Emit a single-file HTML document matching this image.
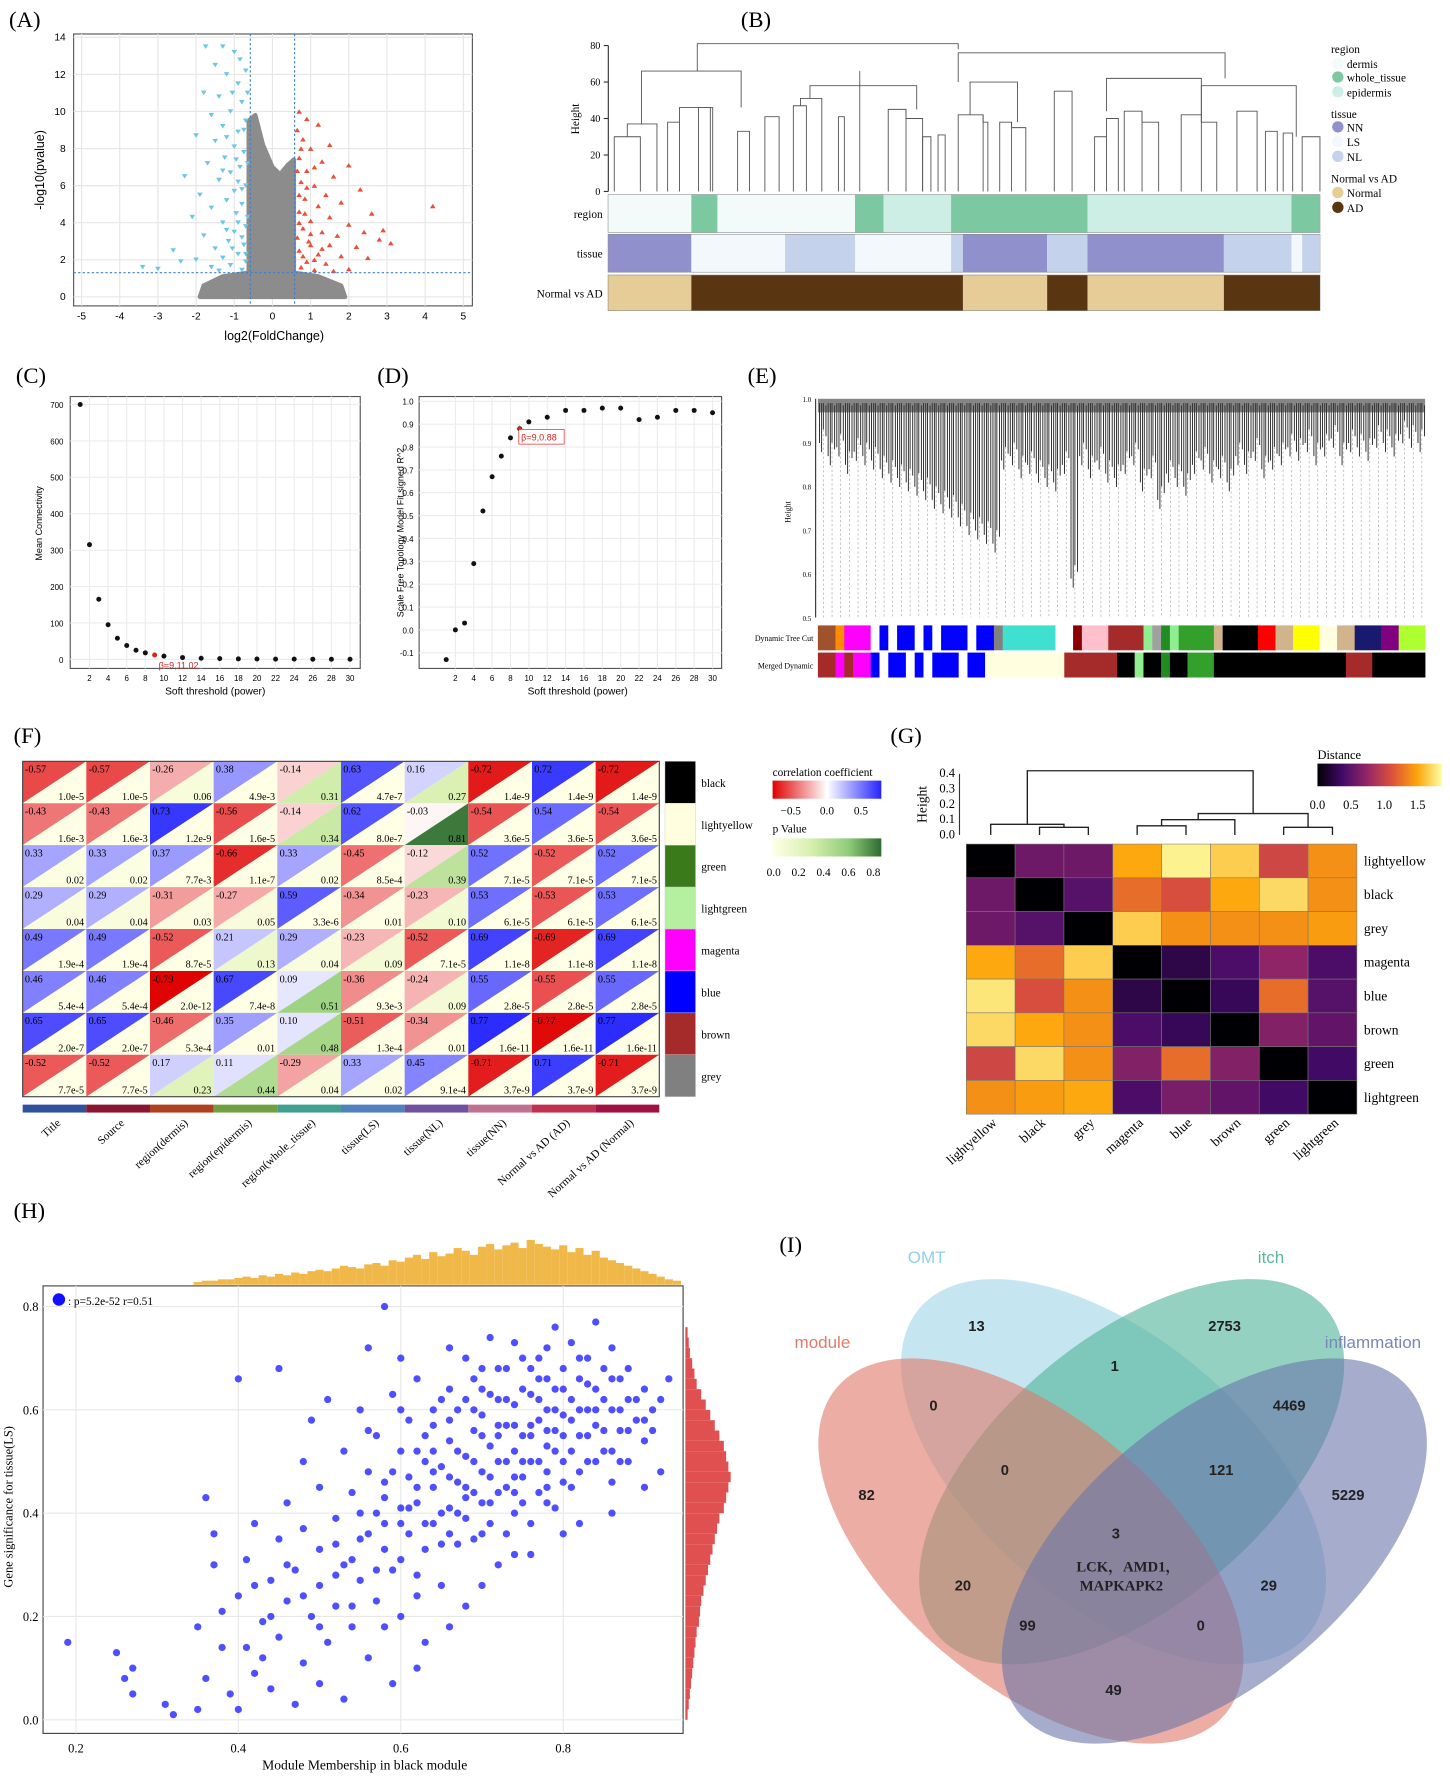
<!DOCTYPE html>
<html><head><meta charset="utf-8"><style>
html,body{margin:0;padding:0;background:#fff}
svg{display:block}
text{font-family:"Liberation Serif",serif}
.s{font-family:"Liberation Sans",sans-serif}
</style></head><body>
<svg id="fig" xmlns="http://www.w3.org/2000/svg" width="1450" height="1781" viewBox="0 0 1280 1572" preserveAspectRatio="none"></svg>
<script>
// ===== DATA =====
// A volcano
const volBlue=[[-1.75,13.5],[-1.3,13.5],[-1.0,13.2],[-1.5,12.5],[-1.2,12],[-0.9,11.5],[-1.8,11],[-1.4,10.8],[-0.8,10.5],[-1.1,10],[-1.6,9.8],[-0.7,9.5],[-1.3,9.2],[-0.9,8.9],[-2.0,8.7],[-1.5,8.4],[-1.0,8.1],[-0.75,7.8],[-1.25,7.5],[-1.7,7.2],[-0.85,7],[-1.1,6.7],[-2.3,6.5],[-1.4,6.3],[-0.7,6],[-1.0,5.7],[-1.9,5.5],[-1.2,5.2],[-0.8,5],[-1.6,4.8],[-0.95,4.5],[-2.1,4.3],[-1.3,4],[-0.7,3.8],[-1.0,3.5],[-1.8,3.3],[-1.15,3],[-0.75,2.8],[-1.5,2.6],[-2.6,2.5],[-0.9,2.3],[-1.3,2.1],[-2.0,2.0],[-0.7,1.9],[-1.1,1.7],[-1.6,1.6],[-3.0,1.5],[-0.8,1.45],[-1.4,1.4],[-2.4,1.9],[-3.4,1.6],[-0.65,4.3],[-0.65,7.2],[-0.8,3.2],[-1.05,2.6],[-0.9,6.2],[-1.2,8.6],[-0.75,9],[-1.05,11],[-0.7,12.2],[-0.85,12.8],[-0.65,11],[-0.7,2.3],[-0.9,4],[-1.2,3.6],[-0.8,5.8],[-1.3,6.8],[-0.95,7.4]];
const volRed=[[0.7,10],[0.9,9.6],[0.65,9],[1.2,9.3],[0.8,8.5],[1.5,8.2],[1.0,8],[0.7,7.5],[1.3,7.3],[2.0,7.1],[0.9,6.8],[1.6,6.5],[0.75,6.2],[1.1,6],[2.3,5.8],[1.4,5.5],[0.85,5.3],[1.8,5.1],[1.2,4.9],[0.7,4.6],[2.6,4.5],[1.5,4.3],[1.0,4.1],[2.0,3.9],[0.8,3.7],[1.3,3.5],[1.7,3.3],[2.8,3.1],[0.95,3],[1.5,2.8],[2.2,2.7],[0.7,2.5],[1.2,2.3],[1.8,2.2],[2.5,2.1],[0.9,1.9],[1.4,1.8],[3.1,2.9],[0.75,1.6],[2.0,1.5],[1.1,1.45],[1.6,1.4],[4.2,4.9],[2.9,3.6],[2.4,3.5],[0.65,3.2],[0.7,5.5],[0.8,2.2],[1.0,2.8],[0.65,6.8],[0.7,4.0],[0.85,4.5],[1.0,3.4],[0.75,8.0],[1.1,7.0],[0.9,5.9],[1.3,2.6],[1.1,2.0]];
const volGrayHull=[[-1.9,0],[-1.8,0.6],[-1.3,1.1],[-0.62,1.3],[-0.62,9.5],[-0.45,9.8],[-0.25,8.2],[0,7],[0.2,6.6],[0.4,7.1],[0.56,7.4],[0.56,1.3],[1.2,1.1],[1.8,0.6],[1.9,0]];
// B
const bSegRegion=[[0,7,'dermis'],[7,9.2,'whole'],[9.2,20.8,'dermis'],[20.8,23.2,'whole'],[23.2,28.9,'epi'],[28.9,40.4,'whole'],[40.4,57.6,'epi'],[57.6,60,'whole']];
const bSegTissue=[[0,7,'NN'],[7,14.9,'LS'],[14.9,20.8,'NL'],[20.8,28.9,'LS'],[28.9,29.9,'NL'],[29.9,37,'NN'],[37,40.4,'NL'],[40.4,51.9,'NN'],[51.9,57.6,'NL'],[57.6,58.5,'LS'],[58.5,60,'NL']];
const bSegAD=[[0,7,'Normal'],[7,29.9,'AD'],[29.9,37,'Normal'],[37,40.4,'AD'],[40.4,51.9,'Normal'],[51.9,60,'AD']];
const bMerges=[[0.5,2.7,30,0,0],[1.6,4.1,37,30,0],[5.0,6.0,38,0,0],[6.0,8.8,46,38,0],[7.6,8.6,46,0,0],[2.8,11.2,66,37,46],[10.9,11.9,33,0,0],[13.2,14.4,41,0,0],[15.6,16.7,47,0,0],[16.2,18.0,51,47,0],[19.4,19.9,41,0,0],[21.2,21.2,66,0,0],[23.6,25.1,45,0,0],[25.1,26.5,40,45,0],[26.5,27.2,30,0,0],[27.8,28.4,31,0,0],[17,26,58,51,45],[29.5,31.6,42,0,0],[31.6,32.0,38,42,0],[33.0,34.0,38,0,0],[34.0,35.2,35,38,0],[37.6,39.1,55,0,0],[41.0,42.0,30,0,0],[42.0,43.0,40,30,0],[43.5,45.0,44,0,0],[45.0,46.4,38,44,0],[48.3,50.0,42,0,0],[50.0,51.3,38,42,0],[53.0,54.7,44,0,0],[55.4,56.4,33,0,0],[56.9,57.7,32,0,0],[58.5,60,30,0,0],[30.5,34.5,60,42,38],[42,50,62,44,42],[50,58,58,42,30],[7.5,29.5,81,66,78],[29.5,52,76,60,62]];
// C, D
const cPow=[1,2,3,4,5,6,7,8,9,10,12,14,16,18,20,22,24,26,28,30];
const cConn=[700,315,165,95,58,38,25,18,12,9,5,3,2,1.5,1,0.8,0.6,0.5,0.4,0.3];
const dR2=[-0.13,0.0,0.03,0.29,0.52,0.67,0.76,0.84,0.88,0.91,0.93,0.96,0.96,0.97,0.97,0.92,0.93,0.96,0.96,0.95];
// E
const eDrops=[0.93,0.9,0.92,0.88,0.91,0.9,0.89,0.87,0.86,0.85,0.84,0.83,0.82,0.8,0.79,0.78,0.76,0.74,0.73,0.72,0.70,0.89,0.9,0.87,0.88,0.86,0.85,0.84,0.88,0.62,0.9,0.87,0.89,0.86,0.85,0.88,0.9,0.84,0.87,0.8,0.86,0.85,0.83,0.88,0.89,0.86,0.87,0.84,0.9,0.88,0.91,0.87,0.89,0.9,0.92,0.91,0.93,0.9,0.92,0.94,0.9,0.93,0.92,0.91,0.94,0.93,0.92,0.95,0.94,0.93];
const eDyn=[['#a0522d',2],['#ff8c00',1],['#ff00ff',3],['#ffffff',1],['#0000ff',1],['#ffffff',1],['#0000ff',2],['#ffffff',1],['#0000ff',1],['#ffffff',1],['#0000ff',3],['#ffffff',1],['#0000ff',2],['#808080',1],['#40e0d0',6],['#ffffff',2],['#8b0000',1],['#ffc0cb',3],['#a52a2a',4],['#90ee90',1],['#a0a0a0',1],['#228b22',1],['#90ee90',1],['#32a02a',4],['#d2b48c',1],['#000000',4],['#ff0000',2],['#d2b48c',2],['#ffff00',3],['#ffffe0',2],['#d2b48c',2],['#191970',3],['#800080',2],['#adff2f',3]];
const eMerge=[['#a52a2a',2],['#ff00ff',1],['#a52a2a',1],['#ff00ff',2],['#0000ff',1],['#ffffff',1],['#0000ff',2],['#ffffff',1],['#0000ff',1],['#ffffff',1],['#0000ff',3],['#ffffff',1],['#0000ff',2],['#ffffe0',9],['#a52a2a',6],['#000000',2],['#90ee90',1],['#000000',2],['#228b22',1],['#000000',2],['#32a02a',3],['#000000',15],['#a52a2a',3],['#000000',6]];
// F
const fCols=['Title','Source','region(dermis)','region(epidermis)','region(whole_tissue)','tissue(LS)','tissue(NL)','tissue(NN)','Normal vs AD (AD)','Normal vs AD (Normal)'];
const fRows=['black','lightyellow','green','lightgreen','magenta','blue','brown','grey'];
const fCor=[[-0.57,-0.57,-0.26,0.38,-0.14,0.63,0.16,-0.72,0.72,-0.72],[-0.43,-0.43,0.73,-0.56,-0.14,0.62,-0.03,-0.54,0.54,-0.54],[0.33,0.33,0.37,-0.66,0.33,-0.45,-0.12,0.52,-0.52,0.52],[0.29,0.29,-0.31,-0.27,0.59,-0.34,-0.23,0.53,-0.53,0.53],[0.49,0.49,-0.52,0.21,0.29,-0.23,-0.52,0.69,-0.69,0.69],[0.46,0.46,-0.79,0.67,0.09,-0.36,-0.24,0.55,-0.55,0.55],[0.65,0.65,-0.46,0.35,0.10,-0.51,-0.34,0.77,-0.77,0.77],[-0.52,-0.52,0.17,0.11,-0.29,0.33,0.45,-0.71,0.71,-0.71]];
const fP=[['1.0e-5','1.0e-5','0.06','4.9e-3','0.31','4.7e-7','0.27','1.4e-9','1.4e-9','1.4e-9'],['1.6e-3','1.6e-3','1.2e-9','1.6e-5','0.34','8.0e-7','0.81','3.6e-5','3.6e-5','3.6e-5'],['0.02','0.02','7.7e-3','1.1e-7','0.02','8.5e-4','0.39','7.1e-5','7.1e-5','7.1e-5'],['0.04','0.04','0.03','0.05','3.3e-6','0.01','0.10','6.1e-5','6.1e-5','6.1e-5'],['1.9e-4','1.9e-4','8.7e-5','0.13','0.04','0.09','7.1e-5','1.1e-8','1.1e-8','1.1e-8'],['5.4e-4','5.4e-4','2.0e-12','7.4e-8','0.51','9.3e-3','0.09','2.8e-5','2.8e-5','2.8e-5'],['2.0e-7','2.0e-7','5.3e-4','0.01','0.48','1.3e-4','0.01','1.6e-11','1.6e-11','1.6e-11'],['7.7e-5','7.7e-5','0.23','0.44','0.04','0.02','9.1e-4','3.7e-9','3.7e-9','3.7e-9']];
const fRowColors=['#000000','#ffffe0','#3a7a1a','#b4f0a0','#ff00ff','#0000ff','#a52a2a','#808080'];
const fColColors=['#3050a0','#8a1530','#b04020','#70a040','#40a090','#5080c0','#7050a0','#c07090','#c03050','#a01040'];
// G
const gNames=['lightyellow','black','grey','magenta','blue','brown','green','lightgreen'];
const gDist=[[0,0.55,0.55,1.45,1.75,1.6,1.0,1.35],[0.55,0,0.45,1.2,1.05,1.45,1.65,1.35],[0.55,0.45,0,1.6,1.35,1.35,1.35,1.4],[1.45,1.2,1.6,0,0.25,0.4,0.7,0.4],[1.7,1.05,1.35,0.25,0,0.3,1.2,0.45],[1.65,1.45,1.35,0.4,0.3,0,0.65,0.5],[1.0,1.65,1.35,0.65,1.2,0.65,0,0.35],[1.35,1.4,1.45,0.4,0.6,0.5,0.35,0]];
const gMerges=[[1,2,0.05,0,0],[0,1.5,0.07,0,0.05],[3,4,0.06,0,0],[3.5,5,0.1,0.06,0],[6,7,0.05,0,0],[4.25,6.5,0.14,0.1,0.05],[0.75,5.375,0.42,0.07,0.14]];
// H
const hPts=[[0.19,0.15],[0.25,0.13],[0.26,0.08],[0.27,0.10],[0.27,0.05],[0.31,0.03],[0.32,0.01],[0.35,0.02],[0.36,0.08],[0.35,0.18],[0.36,0.43],[0.37,0.36],[0.37,0.30],[0.38,0.21],[0.38,0.14],[0.39,0.05],[0.4,0.02],[0.4,0.66],[0.4,0.24],[0.41,0.14],[0.41,0.31],[0.42,0.09],[0.42,0.38],[0.43,0.19],[0.43,0.12],[0.44,0.27],[0.44,0.06],[0.45,0.35],[0.45,0.68],[0.45,0.16],[0.46,0.23],[0.46,0.42],[0.47,0.03],[0.47,0.29],[0.48,0.11],[0.48,0.5],[0.48,0.37],[0.49,0.2],[0.49,0.58],[0.5,0.07],[0.5,0.33],[0.5,0.26],[0.5,0.45],[0.51,0.15],[0.51,0.62],[0.52,0.39],[0.52,0.22],[0.53,0.52],[0.53,0.3],[0.53,0.04],[0.54,0.44],[0.54,0.18],[0.55,0.35],[0.55,0.6],[0.55,0.27],[0.56,0.48],[0.56,0.12],[0.56,0.72],[0.57,0.4],[0.57,0.23],[0.57,0.55],[0.58,0.33],[0.58,0.8],[0.58,0.46],[0.59,0.29],[0.59,0.63],[0.59,0.07],[0.6,0.41],[0.6,0.52],[0.6,0.2],[0.6,0.7],[0.61,0.36],[0.61,0.47],[0.61,0.58],[0.62,0.28],[0.62,0.42],[0.62,0.66],[0.63,0.5],[0.63,0.33],[0.63,0.15],[0.64,0.45],[0.64,0.57],[0.64,0.38],[0.65,0.62],[0.65,0.26],[0.65,0.49],[0.66,0.41],[0.66,0.72],[0.66,0.54],[0.67,0.34],[0.67,0.46],[0.67,0.6],[0.68,0.51],[0.68,0.39],[0.68,0.22],[0.69,0.56],[0.69,0.44],[0.69,0.66],[0.7,0.48],[0.7,0.36],[0.7,0.59],[0.71,0.53],[0.71,0.42],[0.71,0.74],[0.72,0.5],[0.72,0.62],[0.72,0.3],[0.73,0.45],[0.73,0.57],[0.73,0.68],[0.74,0.52],[0.74,0.4],[0.74,0.61],[0.75,0.55],[0.75,0.47],[0.75,0.7],[0.76,0.5],[0.76,0.63],[0.76,0.38],[0.77,0.58],[0.77,0.44],[0.77,0.66],[0.78,0.53],[0.78,0.6],[0.78,0.48],[0.79,0.64],[0.79,0.41],[0.79,0.56],[0.8,0.5],[0.8,0.68],[0.8,0.59],[0.81,0.62],[0.81,0.45],[0.81,0.73],[0.82,0.55],[0.82,0.66],[0.82,0.38],[0.83,0.6],[0.83,0.5],[0.83,0.7],[0.84,0.57],[0.84,0.64],[0.85,0.52],[0.85,0.68],[0.86,0.6],[0.86,0.46],[0.87,0.66],[0.87,0.56],[0.88,0.62],[0.88,0.5],[0.89,0.58],[0.9,0.54],[0.9,0.64],[0.91,0.6],[0.92,0.48],[0.93,0.66],[0.84,0.77],[0.79,0.76],[0.7,0.26],[0.66,0.18],[0.62,0.1],[0.74,0.32],[0.86,0.4],[0.9,0.45],[0.68,0.45],[0.72,0.55],[0.76,0.57],[0.7,0.64],[0.64,0.52],[0.74,0.47],[0.78,0.42],[0.66,0.36],[0.6,0.31],[0.58,0.38]];
const hPts2=[[0.62,0.45],[0.63,0.55],[0.64,0.48],[0.65,0.4],[0.66,0.58],[0.66,0.47],[0.67,0.52],[0.68,0.62],[0.68,0.43],[0.69,0.5],[0.69,0.6],[0.7,0.42],[0.7,0.55],[0.71,0.47],[0.71,0.63],[0.72,0.44],[0.72,0.57],[0.72,0.68],[0.73,0.5],[0.73,0.62],[0.74,0.44],[0.74,0.57],[0.75,0.5],[0.75,0.64],[0.75,0.42],[0.76,0.55],[0.76,0.68],[0.77,0.5],[0.77,0.62],[0.77,0.7],[0.78,0.45],[0.78,0.56],[0.78,0.66],[0.79,0.52],[0.79,0.6],[0.8,0.46],[0.8,0.55],[0.8,0.64],[0.81,0.58],[0.81,0.52],[0.82,0.6],[0.82,0.48],[0.82,0.7],[0.83,0.55],[0.83,0.65],[0.84,0.5],[0.84,0.6],[0.85,0.56],[0.85,0.62],[0.86,0.52],[0.86,0.66],[0.87,0.6],[0.87,0.5],[0.88,0.56],[0.88,0.68],[0.89,0.62],[0.9,0.58],[0.91,0.56],[0.92,0.62],[0.6,0.38],[0.58,0.43],[0.56,0.36],[0.54,0.31],[0.52,0.28],[0.55,0.4],[0.57,0.29],[0.59,0.48],[0.61,0.41],[0.63,0.38],[0.65,0.34],[0.67,0.4],[0.69,0.35],[0.71,0.38],[0.73,0.36],[0.62,0.52],[0.64,0.6],[0.66,0.64],[0.68,0.7],[0.7,0.68],[0.62,0.24],[0.58,0.18],[0.54,0.22],[0.5,0.18],[0.48,0.24],[0.46,0.3],[0.52,0.34],[0.44,0.2],[0.42,0.26],[0.56,0.56],[0.6,0.6],[0.74,0.73],[0.78,0.72],[0.86,0.72],[0.8,0.36],[0.76,0.32]];
const hTop=[2,3,3,4,4,5,6,5,7,6,8,7,9,8,10,11,10,12,14,13,12,15,16,14,18,17,20,22,19,24,21,23,27,25,22,28,30,26,29,31,27,33,30,28,26,29,24,27,22,25,20,18,16,14,12,10,8,6,4,3];
const hRight=[2,3,4,5,6,7,8,9,10,12,13,14,16,18,20,22,24,26,28,30,34,36,38,40,38,36,34,30,26,22,18,14,10,8,6,4,3,2];
// I
const vennNums=[['13',862,1175],['2753',1081,1175],['1',984,1210],['0',824,1245],['4469',1138,1245],['0',887,1302],['121',1078,1302],['82',765,1324],['5229',1190,1324],['3',985,1358],['20',850,1404],['29',1120,1404],['99',907,1439],['0',1060,1439],['49',983,1496]];

// ===== helpers =====
const NS='http://www.w3.org/2000/svg';
const svg=document.getElementById('fig');
function mk(tag,attrs,parent){const e=document.createElementNS(NS,tag);for(const k in attrs)e.setAttribute(k,attrs[k]);(parent||svg).appendChild(e);return e;}
function tx(x,y,s,attrs,parent){const e=mk('text',Object.assign({x:x,y:y},attrs||{}),parent);e.textContent=s;return e;}
function lerpC(a,b,t){const pa=[1,3,5].map(i=>parseInt(a.substr(i,2),16)),pb=[1,3,5].map(i=>parseInt(b.substr(i,2),16));return 'rgb('+pa.map((v,i)=>Math.round(v+(pb[i]-v)*t)).join(',')+')';}
function scale(stops,t){t=Math.max(0,Math.min(1,t));const n=stops.length-1;const i=Math.min(n-1,Math.floor(t*n));return lerpC(stops[i],stops[i+1],t*n-i);}
function panelLabel(s,x,y){const e=tx(x,y,s,{'font-size':20});

}

// ===== Panel A =====
(function(){
const g=mk('g',{});


panelLabel('(A)',8,24);
const X=v=>72+(v+5)*33.7, Y=v=>262-v*16.36;
mk('rect',{x:65,y:30,width:352,height:240,fill:'none',stroke:'#555'},g);
for(let v=-5;v<=5;v++){mk('line',{x1:X(v),x2:X(v),y1:30,y2:270,stroke:'#e6e6e6'},g);const t=tx(X(v),282,String(v),{'font-size':9,'text-anchor':'middle',class:'s'},g);

}
for(let v=0;v<=14;v+=2){mk('line',{x1:65,x2:417,y1:Y(v),y2:Y(v),stroke:'#e6e6e6'},g);const t=tx(58,Y(v)+3,String(v),{'font-size':9,'text-anchor':'end',class:'s'},g);

}
const hull=mk('polygon',{points:volGrayHull.map(p=>X(p[0])+','+Y(p[1])).join(' '),fill:'#8c8c8c',stroke:'#8c8c8c','stroke-width':4,'stroke-linejoin':'round'},g);


volBlue.forEach(p=>{const e=mk('path',{d:`M${X(p[0])-2.5},${Y(p[1])-2}h5l-2.5,4z`,fill:'#6ec6e6'},g);

});
volRed.forEach(p=>{const e=mk('path',{d:`M${X(p[0])-2.5},${Y(p[1])+2}h5l-2.5,-4z`,fill:'#e8503a'},g);

});
[-0.58,0.58].forEach(v=>{const l=mk('line',{x1:X(v),x2:X(v),y1:30,y2:270,stroke:'#3a7fd0','stroke-dasharray':'2,2'},g);

});
const hl=mk('line',{x1:65,x2:417,y1:Y(1.3),y2:Y(1.3),stroke:'#3a7fd0','stroke-dasharray':'2,2'},g);


const xl=tx(242,300,'log2(FoldChange)',{'font-size':11,'text-anchor':'middle',class:'s'},g);


const yl=tx(0,0,'-log10(pvalue)',{'font-size':11,'text-anchor':'middle',class:'s',transform:'translate(39,150) rotate(-90)'},g);


})();

// ===== Panel B =====
(function(){
const g=mk('g',{});


panelLabel('(B)',654,24);
const X=i=>537+i*10.47, Y=h=>169-h*1.61;
mk('line',{x1:537,x2:537,y1:Y(0),y2:Y(80),stroke:'#333'},g);
[0,20,40,60,80].forEach(v=>{mk('line',{x1:533,x2:537,y1:Y(v),y2:Y(v),stroke:'#333'},g);const t=tx(530,Y(v)+3,String(v),{'font-size':9,'text-anchor':'end'},g);

});
const yl=tx(0,0,'Height',{'font-size':10,'text-anchor':'middle',transform:'translate(511,105) rotate(-90)'},g);


bMerges.forEach(m=>{const e=mk('path',{d:`M${X(m[0])},${Y(m[3])}V${Y(m[2])}H${X(m[1])}V${Y(m[4])}`,fill:'none',stroke:'#555','stroke-width':0.8},g);

});
const colR={dermis:'#f2fafa',whole:'#7cc8a0',epi:'#cdeee4'},colT={NN:'#9090cc',LS:'#f2f8fc',NL:'#c4d2ec'},colA={Normal:'#e6cc96',AD:'#5a3512'};
[[bSegRegion,colR,172,33,'region'],[bSegTissue,colT,207,33,'tissue'],[bSegAD,colA,243,31,'Normal vs AD']].forEach(r=>{
const lb=tx(532,r[2]+r[3]/2+4,r[4],{'font-size':10,'text-anchor':'end'},g);


mk('rect',{x:537,y:r[2],width:628,height:r[3],fill:'none',stroke:'#888'},g);
r[0].forEach(s=>{const e=mk('rect',{x:X(s[0]),y:r[2],width:X(s[1])-X(s[0]),height:r[3],fill:r[1][s[2]]},g);

});});
const leg=[['region',null],['dermis','#f2fafa'],['whole_tissue','#7cc8a0'],['epidermis','#cdeee4'],['tissue',null],['NN','#9090cc'],['LS','#f2f8fc'],['NL','#c4d2ec'],['Normal vs AD',null],['Normal','#e6cc96'],['AD','#5a3512']];
const ys=[47,60,72,85,104,116,129,142,161,174,187];
leg.forEach((l,i)=>{if(l[1]){const c=mk('circle',{cx:1181,cy:ys[i]-4,r:5,fill:l[1]},g);

}
const t=tx(l[1]?1189:1175,ys[i],l[0],{'font-size':10},g);

});
})();

// ===== Panel C =====
(function(){
const g=mk('g',{});


panelLabel('(C)',14,338);
const X=v=>79+(v-2)*8.214, Y=v=>582-v*0.3214;
mk('rect',{x:62,y:350,width:256,height:240,fill:'none',stroke:'#555'},g);
for(let v=2;v<=30;v+=2){mk('line',{x1:X(v),x2:X(v),y1:350,y2:590,stroke:'#ececec'},g);const t=tx(X(v),601,String(v),{'font-size':7,'text-anchor':'middle',class:'s'},g);

}
for(let v=0;v<=700;v+=100){mk('line',{x1:62,x2:318,y1:Y(v),y2:Y(v),stroke:'#ececec'},g);const t=tx(56,Y(v)+3,String(v),{'font-size':7,'text-anchor':'end',class:'s'},g);

}
cPow.forEach((p,i)=>{const c=mk('circle',{cx:X(p),cy:Y(cConn[i]),r:2.2,fill:p===9?'#e02020':'#111'},g);

});
const b=tx(140,590,'β=9,11.02',{'font-size':8,fill:'#e02020',class:'s'},g);


const xl=tx(190,613,'Soft threshold (power)',{'font-size':9,'text-anchor':'middle',class:'s'},g);


const yl=tx(0,0,'Mean Connectivity',{'font-size':8,'text-anchor':'middle',class:'s',transform:'translate(37,462) rotate(-90)'},g);


})();

// ===== Panel D =====
(function(){
const g=mk('g',{});


panelLabel('(D)',333,338);
const X=v=>402+(v-2)*8.107, Y=v=>556-v*201.8;
mk('rect',{x:370,y:350,width:267,height:240,fill:'none',stroke:'#555'},g);
for(let v=2;v<=30;v+=2){mk('line',{x1:X(v),x2:X(v),y1:350,y2:590,stroke:'#ececec'},g);const t=tx(X(v),601,String(v),{'font-size':7,'text-anchor':'middle',class:'s'},g);

}
for(let k=-1;k<=10;k++){const v=k/10;mk('line',{x1:370,x2:637,y1:Y(v),y2:Y(v),stroke:'#ececec'},g);const t=tx(365,Y(v)+3,v.toFixed(1),{'font-size':7,'text-anchor':'end',class:'s'},g);

}
cPow.forEach((p,i)=>{const c=mk('circle',{cx:X(p),cy:Y(dR2[i]),r:2.2,fill:'#111'},g);

});
const s=mk('text',{x:X(9),y:Y(0.88)+3,'font-size':9,fill:'#e02020','text-anchor':'middle',class:'s'},g);s.textContent='✦';


mk('rect',{x:458,y:379,width:40,height:13,fill:'#fff',stroke:'#e02020','stroke-width':0.6},g);
const b=tx(460,389,'β=9,0.88',{'font-size':8,fill:'#e02020',class:'s'},g);


const xl=tx(510,613,'Soft threshold (power)',{'font-size':9,'text-anchor':'middle',class:'s'},g);


const yl=tx(0,0,'Scale Free Topology Model Fit,signed R^2',{'font-size':8,'text-anchor':'middle',class:'s',transform:'translate(356,470) rotate(-90)'},g);


})();

// ===== Panel E =====
(function(){
const g=mk('g',{});


panelLabel('(E)',660,338);
const Y=h=>352+(1-h)*386, step=536/eDrops.length;
mk('line',{x1:720,x2:720,y1:352,y2:545,stroke:'#333'},g);
[1.0,0.9,0.8,0.7,0.6,0.5].forEach(v=>{const t=tx(716,Y(v)+3,v.toFixed(1),{'font-size':6,'text-anchor':'end'},g);

});
const yl=tx(0,0,'Height',{'font-size':7,'text-anchor':'middle',transform:'translate(698,452) rotate(-90)'},g);


eDrops.forEach((d,i)=>{const x=723+(i+0.5)*step;
const dl=mk('line',{x1:x,x2:x,y1:Y(d),y2:545,stroke:'#999','stroke-dasharray':'2,2','stroke-width':0.5},g);


const e=mk('path',{d:`M${x-step*0.45},${Y(0.99)}V${Y(d)+12}M${x},${Y(0.99)}V${Y(d)}M${x+step*0.3},${Y(0.985)}V${Y(d)+6}M${x-step*0.2},${Y(0.99)}V${Y(d)+20}`,stroke:'#222','stroke-width':0.8},g);

});
mk('rect',{x:722,y:352,width:536,height:12,fill:'#333',opacity:0.6},g);
[[eDyn,552,'Dynamic Tree Cut'],[eMerge,576,'Merged Dynamic']].forEach(r=>{
const tot=r[0].reduce((a,b)=>a+b[1],0);let x=722;
r[0].forEach(s=>{const w=s[1]/tot*536;const e=mk('rect',{x:x,y:r[1],width:w+0.3,height:22,fill:s[0]},g);

x+=w;});
const t=tx(718,r[1]+14,r[2],{'font-size':7,'text-anchor':'end'},g);

});
})();

// ===== Panel F =====
(function(){
const g=mk('g',{});


panelLabel('(F)',12,656);
const x0=20,y0=672,w=56.2,h=37;
const corS=['#e00000','#ffffff','#2424ff'], pS=['#ffffe6','#d8f0b0','#90cc78','#2e6b30'];
fRows.forEach((rn,r)=>fCols.forEach((cn,c)=>{const x=x0+c*w,y=y0+r*h,v=fCor[r][c],pv=parseFloat(fP[r][c]);
const t1=mk('polygon',{points:`${x},${y} ${x+w},${y} ${x},${y+h}`,fill:scale(corS,(v+0.8)/1.6)},g);


const t2=mk('polygon',{points:`${x+w},${y} ${x+w},${y+h} ${x},${y+h}`,fill:scale(pS,pv/0.85)},g);


const a=tx(x+2,y+10,v.toFixed(2),{'font-size':9},g);


const b=tx(x+w-2,y+h-3,fP[r][c],{'font-size':9,'text-anchor':'end'},g);

}));
mk('rect',{x:x0,y:y0,width:10*w,height:8*h,fill:'none',stroke:'#444'},g);
fRows.forEach((rn,r)=>{const e=mk('rect',{x:587,y:y0+r*h,width:27,height:h,fill:fRowColors[r],stroke:'#ccc','stroke-width':0.4},g);


const t=tx(619,y0+r*h+h/2+4,rn,{'font-size':10},g);

});
fCols.forEach((cn,c)=>{const cx=x0+c*w;const e=mk('rect',{x:cx,y:975,width:w,height:7,fill:fColColors[c]},g);


const t=tx(cx+w/2+6,992,cn,{'font-size':10,'text-anchor':'end',transform:`rotate(-42,${cx+w/2+6},992)`},g);

});
const defs=mk('defs',{});
const lg1=mk('linearGradient',{id:'gc'},defs);
[['0','#e00000'],['0.5','#ffffff'],['1','#2424ff']].forEach(s=>mk('stop',{offset:s[0],'stop-color':s[1]},lg1));
const lg2=mk('linearGradient',{id:'gp'},defs);
[['0','#ffffe6'],['0.35','#d8f0b0'],['0.7','#90cc78'],['1','#2e6b30']].forEach(s=>mk('stop',{offset:s[0],'stop-color':s[1]},lg2));
const t1=tx(682,685,'correlation coefficient',{'font-size':10},g);


const r1=mk('rect',{x:682,y:689,width:96,height:16,fill:'url(#gc)'},g);


[['−0.5',698],['0.0',730],['0.5',760]].forEach(k=>{const t=tx(k[1],719,k[0],{'font-size':10,'text-anchor':'middle'},g);

});
const t2=tx(682,735,'p Value',{'font-size':10},g);


const r2=mk('rect',{x:682,y:740,width:96,height:16,fill:'url(#gp)'},g);


['0.0','0.2','0.4','0.6','0.8'].forEach((k,i)=>{const t=tx(683+i*22,773,k,{'font-size':10,'text-anchor':'middle'},g);

});
})();

// ===== Panel G =====
(function(){
const g=mk('g',{});


panelLabel('(G)',786,656);
const x0=853,y0=745,cw=43.1,ch=29.8;
const inf=['#000004','#420a68','#932667','#dd513a','#fca50a','#fcffa4'];
gNames.forEach((rn,r)=>gNames.forEach((cn,c)=>{const e=mk('rect',{x:x0+c*cw,y:y0+r*ch,width:cw,height:ch,fill:scale(inf,gDist[r][c]/1.8),stroke:'#777','stroke-width':0.5},g);

}));
gNames.forEach((n,i)=>{const t=tx(1204,y0+i*ch+ch/2+4,n,{'font-size':12},g);


const cx=x0+(i+0.5)*cw+6;const t2=tx(cx,992,n,{'font-size':12,'text-anchor':'end',transform:`rotate(-42,${cx},992)`},g);

});
const X=i=>x0+(i+0.5)*cw, Y=h=>737-h*135;
mk('line',{x1:847,x2:847,y1:Y(0),y2:Y(0.4),stroke:'#333'},g);
[0,0.1,0.2,0.3,0.4].forEach(v=>{const t=tx(843,Y(v)+3,v.toFixed(1),{'font-size':11,'text-anchor':'end'},g);

});
const yl=tx(0,0,'Height',{'font-size':12,'text-anchor':'middle',transform:'translate(818,710) rotate(-90)'},g);


gMerges.forEach(m=>{const e=mk('path',{d:`M${X(m[0])},${Y(m[3])}V${Y(m[2])}H${X(m[1])}V${Y(m[4])}`,fill:'none',stroke:'#222','stroke-width':1.2},g);

});
const defs=mk('defs',{});const lg=mk('linearGradient',{id:'gi'},defs);
inf.forEach((c,i)=>mk('stop',{offset:i/5,'stop-color':c},lg));
const tt=tx(1163,670,'Distance',{'font-size':11},g);


const cb=mk('rect',{x:1163,y:674,width:110,height:20,fill:'url(#gi)'},g);


['0.0','0.5','1.0','1.5'].forEach((k,i)=>{const t=tx(1163+i*29.5,714,k,{'font-size':11,'text-anchor':'middle'},g);

});
})();

// ===== Panel H =====
(function(){
const g=mk('g',{});


panelLabel('(H)',12,1075);
const X=v=>67+(v-0.2)*717, Y=v=>1518-v*456;
mk('rect',{x:38,y:1135,width:565,height:395,fill:'none',stroke:'#444'},g);
[0.2,0.4,0.6,0.8].forEach(v=>{mk('line',{x1:X(v),x2:X(v),y1:1135,y2:1530,stroke:'#e8e8e8'},g);const t=tx(X(v),1547,v.toFixed(1),{'font-size':11,'text-anchor':'middle'},g);

});
[0,0.2,0.4,0.6,0.8].forEach(v=>{mk('line',{x1:38,x2:603,y1:Y(v),y2:Y(v),stroke:'#e8e8e8'},g);const t=tx(34,Y(v)+4,v.toFixed(1),{'font-size':11,'text-anchor':'end'},g);

});
hPts.concat(hPts2).forEach(p=>{const c=mk('circle',{cx:X(p[0]),cy:Y(p[1]),r:3.2,fill:'#3030ff','fill-opacity':0.85},g);

});
hTop.forEach((v,i)=>{const x1=X(0.345+i*0.01),x2=X(0.355+i*0.01);const e=mk('rect',{x:x1,y:1134-v*1.2,width:x2-x1,height:v*1.2,fill:'#f0b848'},g);

});
hRight.forEach((v,i)=>{const y1=Y((i+1)*0.02),y2=Y(i*0.02);const e=mk('rect',{x:605,y:y1,width:v,height:y2-y1,fill:'#e05050'},g);

});
const d=mk('circle',{cx:52,cy:1147,r:5.5,fill:'#1010ff'},g);


const lt=tx(60,1152,': p=5.2e-52 r=0.51',{'font-size':10},g);


const xl=tx(322,1562,'Module Membership in black module',{'font-size':12,'text-anchor':'middle'},g);


const yl=tx(0,0,'Gene significance for tissue(LS)',{'font-size':11,'text-anchor':'middle',transform:'translate(11,1330) rotate(-90)'},g);


})();

// ===== Panel I =====
(function(){
const g=mk('g',{});


panelLabel('(I)',688,1105);
const ells=[['omt-set',983,1299,40,'#9fd6e8'],['itch-set',999,1299,-40,'#4eb398'],['module-set',910,1369,40,'#e07868'],['inflammation-set',1072,1369,-40,'#6a74aa']];
ells.forEach(e=>{const el=mk('ellipse',{cx:e[1],cy:e[2],rx:224,ry:118,transform:`rotate(${e[3]},${e[1]},${e[2]})`,fill:e[4],'fill-opacity':0.6},g);

});
[['OMT',818,1115,'#8fd0ea'],['itch',1122,1115,'#5bb89a'],['module',726,1190,'#e07a6a'],['inflammation',1212,1190,'#7a86b8']].forEach(l=>{const t=tx(l[1],l[2],l[0],{'font-size':15,fill:l[3],'text-anchor':'middle',class:'s'},g);

});
vennNums.forEach(n=>{const t=tx(n[1],n[2],n[0],{'font-size':13,'font-weight':'bold','text-anchor':'middle',fill:'#222',class:'s'},g);

});
const g1=tx(996,1387,'LCK，AMD1，',{'font-size':13,'font-weight':'bold','text-anchor':'middle',fill:'#222',style:'font-family:"Liberation Serif","Noto Serif CJK SC",serif'},g);


const g2=tx(990,1404,'MAPKAPK2',{'font-size':13,'font-weight':'bold','text-anchor':'middle',fill:'#222'},g);


})();
</script>
</body></html>
